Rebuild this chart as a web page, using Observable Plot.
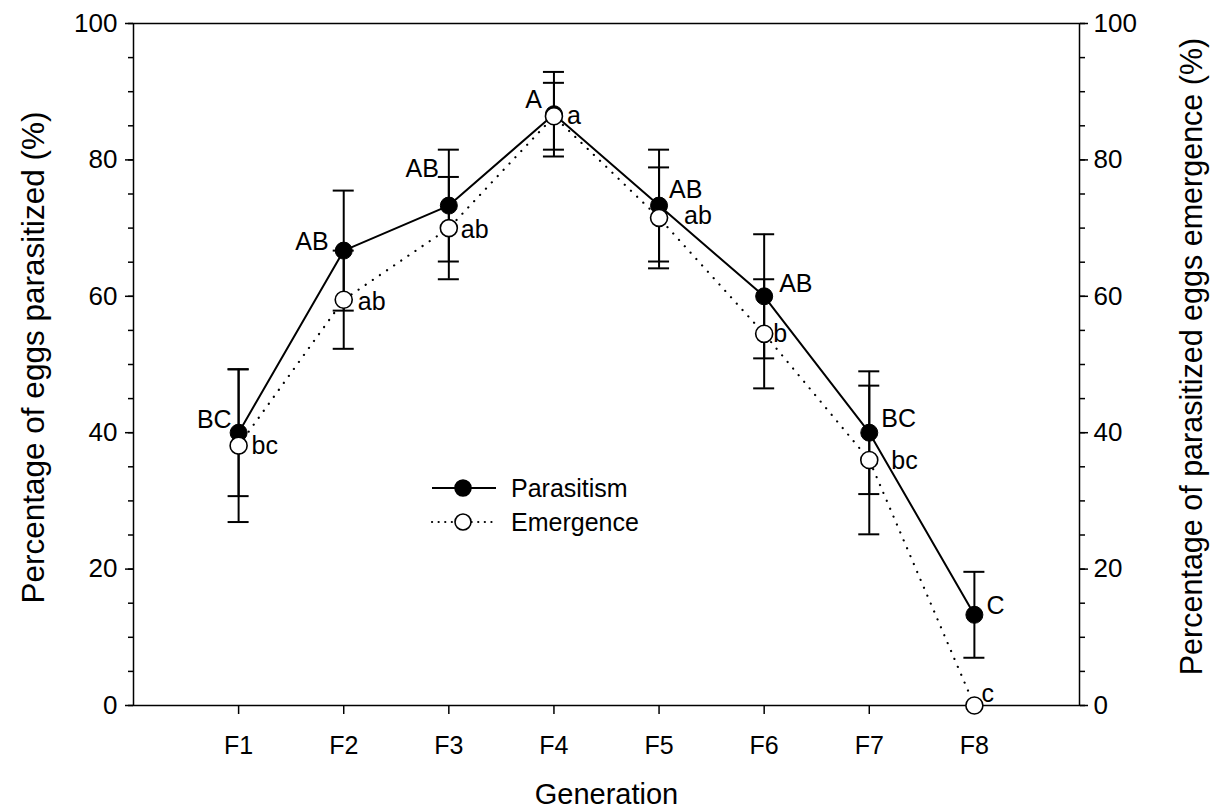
<!DOCTYPE html>
<html>
<head>
<meta charset="utf-8">
<script src="https://cdn.jsdelivr.net/npm/d3@7"></script>
<script src="https://cdn.jsdelivr.net/npm/@observablehq/plot@0.6"></script>
<style>
  html, body { margin: 0; padding: 0; background: #fff; }
  #wrap { position: relative; width: 1221px; height: 811px; font-family: "Liberation Sans", Arial, sans-serif; }
  #legend { position: absolute; left: 425px; top: 470px; }
</style>
</head>
<body>
<div id="wrap"><div id="legend"></div></div>
<script>
// ---- data ----
const generations = ["F1", "F2", "F3", "F4", "F5", "F6", "F7", "F8"];
const parasitism = [40.0, 66.7, 73.3, 86.7, 73.3, 60.0, 40.0, 13.3];
const parasitismSE = [9.3, 8.8, 8.2, 6.2, 8.2, 9.1, 9.0, 6.3];
const emergence = [38.1, 59.5, 70.0, 86.4, 71.5, 54.5, 36.0, 0.0];
const emergenceSE = [11.2, 7.2, 7.5, 4.9, 7.4, 8.0, 10.9, 0.0];
const parasitismLetters = ["BC", "AB", "AB", "A", "AB", "AB", "BC", "C"];
const emergenceLetters = ["bc", "ab", "ab", "a", "ab", "b", "bc", "c"];
const yTicks = [0, 20, 40, 60, 80, 100];
const seriesNames = ["Parasitism", "Emergence"];
const xTitle = "Generation";
const yTitleLeft = "Percentage of eggs parasitized (%)";
const yTitleRight = "Percentage of parasitized eggs emergence (%)";

// ---- table built from arrays ----
const rows = generations.map((g, i) => ({
  gen: g, x: i + 1,
  p: parasitism[i], pse: parasitismSE[i], pl: parasitismLetters[i],
  e: emergence[i], ese: emergenceSE[i], el: emergenceLetters[i]
}));

// letter label placement (layout only): [dx, dy, anchor]
const pPlace = [[-7,-13,"end"],[-15,-9,"end"],[-10,-37,"end"],[-12,-14,"end"],[10,-16,"start"],[15,-12,"start"],[12,-14,"start"],[12,-9,"start"]];
const ePlace = [[13,0,"start"],[14,2,"start"],[12,2,"start"],[13,0,"start"],[25,-2,"start"],[9,0,"start"],[22,1,"start"],[7,-12,"start"]];

const FONT = "Liberation Sans, Arial, sans-serif";
const capHalf = 0.1;

const letterMarks = [];
rows.forEach((r, i) => {
  letterMarks.push(Plot.text([r], {x: "x", y: "p", text: "pl", dx: pPlace[i][0], dy: pPlace[i][1], textAnchor: pPlace[i][2], fontSize: 25, fill: "black"}));
  letterMarks.push(Plot.text([r], {x: "x", y: "e", text: "el", dx: ePlace[i][0], dy: ePlace[i][1], textAnchor: ePlace[i][2], fontSize: 25, fill: "black"}));
});

const eRows = rows.filter(d => d.ese > 0);

const chart = Plot.plot({
  width: 1221,
  height: 811,
  marginLeft: 133,
  marginRight: 142,
  marginTop: 23,
  marginBottom: 106,
  style: {fontFamily: FONT, fontSize: "25px", background: "white", color: "black", overflow: "visible"},
  x: {domain: [0, 9]},
  y: {domain: [0, 100]},
  marks: [
    Plot.frame({stroke: "black", strokeWidth: 1.5}),
    // left axis
    Plot.axisY({anchor: "left", ticks: d3.range(0, 101, 5), tickSize: 5, tickFormat: () => "", label: null, strokeWidth: 1.5}),
    Plot.axisY({anchor: "left", ticks: yTicks, tickSize: 8, tickPadding: 8, label: null, fontSize: 26, strokeWidth: 1.5}),
    // right axis
    Plot.axisY({anchor: "right", ticks: d3.range(0, 101, 5), tickSize: 5, tickFormat: () => "", label: null, strokeWidth: 1.5}),
    Plot.axisY({anchor: "right", ticks: yTicks, tickSize: 8, tickPadding: 6, label: null, fontSize: 26, strokeWidth: 1.5}),
    // x axis
    Plot.axisX({ticks: d3.range(1, generations.length + 1), tickFormat: i => generations[i - 1], tickSize: 9, tickPadding: 22, label: null, fontSize: 25, strokeWidth: 1.5}),
    // titles
    Plot.text([yTitleLeft], {frameAnchor: "left", dx: -100, dy: -7, rotate: -90, textAnchor: "middle", lineAnchor: "middle", text: d => d, fontSize: 31.5, fill: "black"}),
    Plot.text([yTitleRight], {frameAnchor: "right", dx: 113, dy: -8, rotate: -90, textAnchor: "middle", lineAnchor: "middle", text: d => d, fontSize: 30.5, fill: "black"}),
    Plot.text([xTitle], {frameAnchor: "bottom", dy: 89, textAnchor: "middle", lineAnchor: "middle", text: d => d, fontSize: 29, fill: "black"}),
    // lines
    Plot.line(rows, {x: "x", y: "p", stroke: "black", strokeWidth: 2}),
    Plot.line(rows, {x: "x", y: "e", stroke: "black", strokeWidth: 2.2, strokeDasharray: "0.1,8.5", strokeLinecap: "round"}),
    // error bars parasitism
    Plot.ruleX(rows, {x: "x", y1: d => d.p - d.pse, y2: d => d.p + d.pse, stroke: "black", strokeWidth: 2}),
    Plot.ruleY(rows, {y: d => d.p + d.pse, x1: d => d.x - capHalf, x2: d => d.x + capHalf, stroke: "black", strokeWidth: 2}),
    Plot.ruleY(rows, {y: d => d.p - d.pse, x1: d => d.x - capHalf, x2: d => d.x + capHalf, stroke: "black", strokeWidth: 2}),
    // error bars emergence
    Plot.ruleX(eRows, {x: "x", y1: d => d.e - d.ese, y2: d => d.e + d.ese, stroke: "black", strokeWidth: 2}),
    Plot.ruleY(eRows, {y: d => d.e + d.ese, x1: d => d.x - capHalf, x2: d => d.x + capHalf, stroke: "black", strokeWidth: 2}),
    Plot.ruleY(eRows, {y: d => d.e - d.ese, x1: d => d.x - capHalf, x2: d => d.x + capHalf, stroke: "black", strokeWidth: 2}),
    // points
    Plot.dot(rows, {x: "x", y: "p", r: 8.5, fill: "black", stroke: "black", strokeWidth: 1}),
    Plot.dot(rows, {x: "x", y: "e", r: 8.5, fill: "white", stroke: "black", strokeWidth: 1.6}),
    ...letterMarks
  ]
});
const wrap = document.getElementById("wrap");
wrap.insertBefore(chart, wrap.firstChild);

// legend (in-plot, as in the reference)
const lg = d3.select("#legend").append("svg").attr("width", 230).attr("height", 70)
  .style("font-family", FONT).style("overflow", "visible");
seriesNames.forEach((name, i) => {
  const g = lg.append("g").attr("transform", `translate(0,${18 + i * 34})`);
  g.append("line").attr("x1", 7).attr("x2", 71).attr("y1", 0).attr("y2", 0)
    .attr("stroke", "black").attr("stroke-width", i === 0 ? 2 : 2.2)
    .attr("stroke-dasharray", i === 0 ? null : "0.1,6.5").attr("stroke-linecap", i === 0 ? "butt" : "round");
  g.append("circle").attr("cx", 38).attr("cy", 0).attr("r", 8)
    .attr("fill", i === 0 ? "black" : "white").attr("stroke", "black").attr("stroke-width", 1.6);
  g.append("text").attr("x", 86).attr("y", 0).attr("dy", "0.35em").attr("font-size", 25).attr("fill", "black").text(name);
});
</script>
</body>
</html>
